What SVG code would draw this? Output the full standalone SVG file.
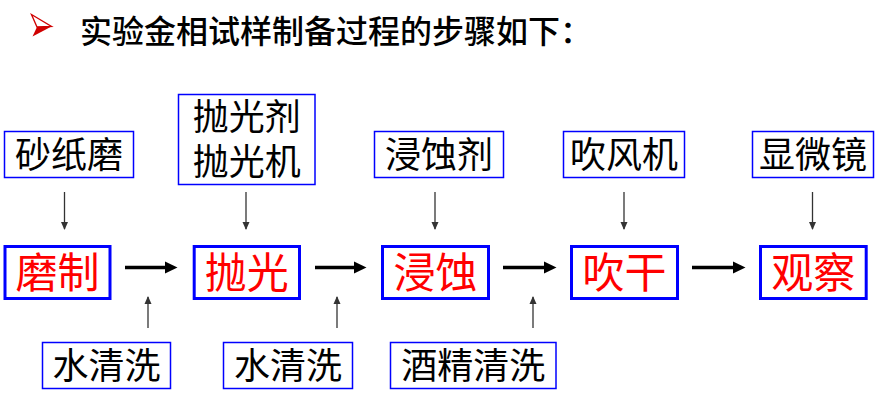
<svg xmlns="http://www.w3.org/2000/svg" width="879" height="396" viewBox="0 0 879 396">
<style>
text{font-family:"Noto Sans CJK SC","Noto Sans",sans-serif;text-anchor:middle}
.tool{fill:#fff;stroke:#0000ff;stroke-width:1.5}
.step{fill:#fff;stroke:#0000ff;stroke-width:3}
.tt{font-size:36px;fill:#000}
.st{font-size:42px;fill:#ff0000}
.thin{stroke:#333;stroke-width:1.3;fill:none}
.thick{stroke:#000;stroke-width:3.5;fill:none}
</style>
<defs>
<marker id="ah" markerWidth="8" markerHeight="8" refX="7" refY="4" orient="auto" markerUnits="userSpaceOnUse">
<path d="M0,0.5 L8,4 L0,7.5 Z" fill="#333"/>
</marker>
</defs>
<rect width="879" height="396" fill="#fff"/>
<g id="title">
<polygon points="31.5,14.5 51.5,26.5 37,27" fill="#fff" stroke="#d00000" stroke-width="1.3"/>
<polygon points="37,27 51.5,26.5 32.5,36.5" fill="#d00000"/>
<text x="80" y="43" style="text-anchor:start;font-size:32px;font-weight:500;fill:#000">实验金相试样制备过程的步骤如下：</text>
</g>
<g id="connectors">
<line class="thin" x1="64.5" y1="192" x2="64.5" y2="229" marker-end="url(#ah)"/>
<line class="thin" x1="246" y1="192" x2="246" y2="229" marker-end="url(#ah)"/>
<line class="thin" x1="435" y1="192" x2="435" y2="229" marker-end="url(#ah)"/>
<line class="thin" x1="624" y1="192" x2="624" y2="229" marker-end="url(#ah)"/>
<line class="thin" x1="812.5" y1="192" x2="812.5" y2="229" marker-end="url(#ah)"/>
<line class="thin" x1="148" y1="328" x2="148" y2="297" marker-end="url(#ah)"/>
<line class="thin" x1="337" y1="328" x2="337" y2="297" marker-end="url(#ah)"/>
<line class="thin" x1="533" y1="328" x2="533" y2="297" marker-end="url(#ah)"/>
<line class="thick" x1="125" y1="267.5" x2="166" y2="267.5"/><polygon points="165,261.5 177.5,267.5 165,273.5"/>
<line class="thick" x1="315" y1="267.5" x2="355" y2="267.5"/><polygon points="354,261.5 366.5,267.5 354,273.5"/>
<line class="thick" x1="503" y1="267.5" x2="545" y2="267.5"/><polygon points="544,261.5 556.5,267.5 544,273.5"/>
<line class="thick" x1="692" y1="267.5" x2="734" y2="267.5"/><polygon points="733,261.5 745.5,267.5 733,273.5"/>
</g>
<g id="tool1"><rect class="tool" x="4.5" y="131.5" width="129" height="46"/><text class="tt" x="69" y="168">砂纸磨</text></g>
<g id="tool2"><rect class="tool" x="178.5" y="94.5" width="136.5" height="90"/><text class="tt" x="246.7" y="129.5">抛光剂</text><text class="tt" x="246.7" y="174.7">抛光机</text></g>
<g id="tool3"><rect class="tool" x="374.5" y="131.5" width="129" height="46"/><text class="tt" x="439" y="168">浸蚀剂</text></g>
<g id="tool4"><rect class="tool" x="563.5" y="131.5" width="121" height="46"/><text class="tt" x="624" y="168">吹风机</text></g>
<g id="tool5"><rect class="tool" x="752.5" y="131.5" width="121" height="46"/><text class="tt" x="813" y="168">显微镜</text></g>
<g id="step1"><rect class="step" x="5" y="246.5" width="105" height="52"/><text class="st" x="57.5" y="288">磨制</text></g>
<g id="step2"><rect class="step" x="194.2" y="246.5" width="105.3" height="52"/><text class="st" x="246.8" y="288">抛光</text></g>
<g id="step3"><rect class="step" x="382.5" y="246.5" width="106" height="52"/><text class="st" x="435.5" y="288">浸蚀</text></g>
<g id="step4"><rect class="step" x="571.5" y="246.5" width="106" height="52"/><text class="st" x="624.5" y="288">吹干</text></g>
<g id="step5"><rect class="step" x="760.5" y="246.5" width="105.7" height="52"/><text class="st" x="813.3" y="288">观察</text></g>
<g id="wash1"><rect class="tool" x="42.5" y="342.5" width="128" height="46"/><text class="tt" x="106.5" y="379">水清洗</text></g>
<g id="wash2"><rect class="tool" x="223.5" y="342.5" width="129" height="46"/><text class="tt" x="288" y="379">水清洗</text></g>
<g id="wash3"><rect class="tool" x="390.5" y="342.5" width="165.5" height="46"/><text class="tt" x="473.3" y="379">酒精清洗</text></g>
</svg>
